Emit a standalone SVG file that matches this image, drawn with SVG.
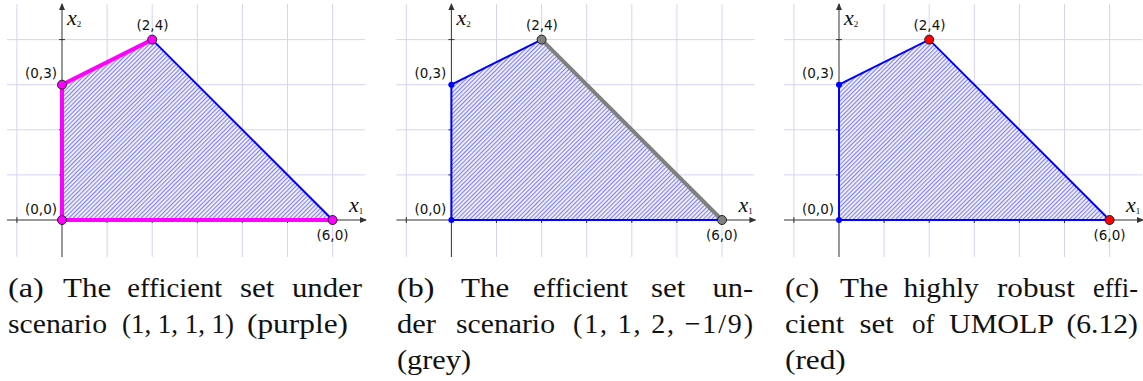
<svg xmlns="http://www.w3.org/2000/svg" width="1143" height="381" viewBox="0 0 1143 381">
<defs>
<pattern id="hatch" width="3" height="3" patternUnits="userSpaceOnUse" patternTransform="rotate(45)">
<rect x="0" y="0" width="3" height="3" fill="#f2f2fd"/>
<rect x="0" y="0" width="1.1" height="3" fill="#8080ee"/>
</pattern>
<marker id="arr" markerWidth="8" markerHeight="8" refX="6" refY="4" orient="auto" markerUnits="userSpaceOnUse">
<path d="M0,1 L7,4 L0,7 Z" fill="#333"/>
</marker>
<g id="grid">
<g class="grid">
<line x1="-45.1" y1="-216" x2="-45.1" y2="37"/>
<line x1="45.1" y1="-216" x2="45.1" y2="37"/>
<line x1="90.2" y1="-216" x2="90.2" y2="37"/>
<line x1="135.3" y1="-216" x2="135.3" y2="37"/>
<line x1="180.4" y1="-216" x2="180.4" y2="37"/>
<line x1="225.5" y1="-216" x2="225.5" y2="37"/>
<line x1="270.6" y1="-216" x2="270.6" y2="37"/>
<line x1="-55" y1="-180.4" x2="303" y2="-180.4"/>
<line x1="-55" y1="-135.3" x2="303" y2="-135.3"/>
<line x1="-55" y1="-90.2" x2="303" y2="-90.2"/>
<line x1="-55" y1="-45.1" x2="303" y2="-45.1"/>
</g>
<g class="axis">
<line x1="-55" y1="0" x2="304" y2="0" marker-end="url(#arr)"/>
<line x1="0" y1="37" x2="0" y2="-216" marker-end="url(#arr)"/>
<line x1="-3" y1="-180.4" x2="3" y2="-180.4"/>
<line x1="-3" y1="-135.3" x2="3" y2="-135.3"/>
<line x1="-3" y1="-90.2" x2="3" y2="-90.2"/>
<line x1="-3" y1="-45.1" x2="3" y2="-45.1"/>
<line x1="-45.1" y1="-3" x2="-45.1" y2="3"/>
<line x1="45.1" y1="-3" x2="45.1" y2="3"/>
<line x1="90.2" y1="-3" x2="90.2" y2="3"/>
<line x1="135.3" y1="-3" x2="135.3" y2="3"/>
<line x1="180.4" y1="-3" x2="180.4" y2="3"/>
<line x1="225.5" y1="-3" x2="225.5" y2="3"/>
<line x1="270.6" y1="-3" x2="270.6" y2="3"/>
</g>
<text class="ax" x="5" y="-195">x<tspan class="sub" dy="2">2</tspan></text>
<text class="ax" x="287" y="-8">x<tspan class="sub" dy="2">1</tspan></text>
<polygon points="0,0 0,-135.3 90.2,-180.4 270.6,0" fill="url(#hatch)"/>
<text class="lbl" x="90.5" y="-190" text-anchor="middle">(2,4)</text>
<text class="lbl" x="-5" y="-142" text-anchor="end">(0,3)</text>
<text class="lbl" x="-5" y="-6" text-anchor="end">(0,0)</text>
<text class="lbl" x="270.5" y="20" text-anchor="middle">(6,0)</text>
</g>
</defs>
<style>
.grid line { stroke:#d4d4f6; stroke-width:1; }
.axis line { stroke:#333; stroke-width:1; }
.ax { font-family:"Liberation Serif", serif; font-style:italic; font-size:22px; fill:#111; }
.sub { font-size:9px; font-style:normal; }
.lbl { font-family:"DejaVu Sans", sans-serif; font-size:13.5px; fill:#111; }
.edge { stroke:#0000ff; stroke-width:2; fill:none; stroke-linecap:round; }
.thick-m { stroke:#ff00ff; stroke-width:4; stroke-linecap:round; }
.thick-g { stroke:#808080; stroke-width:4; stroke-linecap:round; }
.pt { stroke:#222; stroke-width:1; }
.pt-m { fill:#ff00ff; }
.pt-g { fill:#808080; }
.pt-r { fill:#ff0000; }
.pt-b { fill:#0000ff; }
.cap { font-family:"Liberation Serif", serif; font-size:28px; fill:#111; }
</style>
<rect width="1143" height="381" fill="#ffffff"/>

<!-- Panel (a) -->
<g id="panel-a" transform="translate(62,220)">
<use href="#grid"/>
<g id="connectors-a">
<line class="edge" x1="90.2" y1="-180.4" x2="270.6" y2="0"/>
<polyline class="thick-m" fill="none" points="270.6,0 0,0 0,-135.3 90.2,-180.4"/>
</g>
<g id="a-p00"><circle class="pt pt-m" cx="0" cy="0" r="4.5"/></g>
<g id="a-p03"><circle class="pt pt-m" cx="0" cy="-135.3" r="4.5"/></g>
<g id="a-p24"><circle class="pt pt-m" cx="90.2" cy="-180.4" r="4.5"/></g>
<g id="a-p60"><circle class="pt pt-m" cx="270.6" cy="0" r="4.5"/></g>
</g>

<!-- Panel (b) -->
<g id="panel-b" transform="translate(451.4,220)">
<use href="#grid"/>
<g id="connectors-b">
<polyline class="edge" points="270.6,0 0,0 0,-135.3 90.2,-180.4"/>
<line class="thick-g" x1="90.2" y1="-180.4" x2="270.6" y2="0"/>
</g>
<g id="b-p00"><circle class="pt-b" cx="0" cy="0" r="3"/></g>
<g id="b-p03"><circle class="pt-b" cx="0" cy="-135.3" r="3"/></g>
<g id="b-p24"><circle class="pt pt-g" cx="90.2" cy="-180.4" r="4.5"/></g>
<g id="b-p60"><circle class="pt pt-g" cx="270.6" cy="0" r="4.5"/></g>
</g>

<!-- Panel (c) -->
<g id="panel-c" transform="translate(839,220)">
<use href="#grid"/>
<g id="connectors-c">
<polygon class="edge" points="0,0 0,-135.3 90.2,-180.4 270.6,0"/>
</g>
<g id="c-p00"><circle class="pt-b" cx="0" cy="0" r="3"/></g>
<g id="c-p03"><circle class="pt-b" cx="0" cy="-135.3" r="3"/></g>
<g id="c-p24"><circle class="pt pt-r" cx="90.2" cy="-180.4" r="4.5"/></g>
<g id="c-p60"><circle class="pt pt-r" cx="270.6" cy="0" r="4.5"/></g>
</g>

<!-- Captions -->
<g id="caption-a" class="cap">
<text x="8" y="297" textLength="35.8" lengthAdjust="spacingAndGlyphs">(a)</text>
<text x="63" y="297" textLength="48.2" lengthAdjust="spacingAndGlyphs">The</text>
<text x="127.3" y="297" textLength="94.9" lengthAdjust="spacingAndGlyphs">efficient</text>
<text x="239.9" y="297" textLength="34.4" lengthAdjust="spacingAndGlyphs">set</text>
<text x="291.9" y="297" textLength="70.1" lengthAdjust="spacingAndGlyphs">under</text>
<text x="8" y="333" textLength="99" lengthAdjust="spacingAndGlyphs">scenario</text>
<text x="122" y="333" textLength="112" lengthAdjust="spacingAndGlyphs">(1, 1, 1, 1)</text>
<text x="247" y="333" textLength="101" lengthAdjust="spacingAndGlyphs">(purple)</text>
</g>
<g id="caption-b" class="cap">
<text x="397" y="297" textLength="37.4" lengthAdjust="spacingAndGlyphs">(b)</text>
<text x="461" y="297" textLength="48.2" lengthAdjust="spacingAndGlyphs">The</text>
<text x="533" y="297" textLength="94.9" lengthAdjust="spacingAndGlyphs">efficient</text>
<text x="651" y="297" textLength="34.4" lengthAdjust="spacingAndGlyphs">set</text>
<text x="712.5" y="297" textLength="40.5" lengthAdjust="spacingAndGlyphs">un-</text>
<text x="397" y="333" textLength="39" lengthAdjust="spacingAndGlyphs">der</text>
<text x="456" y="333" textLength="99" lengthAdjust="spacingAndGlyphs">scenario</text>
<text x="573" y="333" textLength="180" lengthAdjust="spacing">(1, 1, 2, −1/9)</text>
<text x="397" y="369" textLength="74" lengthAdjust="spacingAndGlyphs">(grey)</text>
</g>
<g id="caption-c" class="cap">
<text x="785" y="297" textLength="34.2" lengthAdjust="spacingAndGlyphs">(c)</text>
<text x="840" y="297" textLength="48.2" lengthAdjust="spacingAndGlyphs">The</text>
<text x="903.4" y="297" textLength="75.5" lengthAdjust="spacingAndGlyphs">highly</text>
<text x="996.9" y="297" textLength="78" lengthAdjust="spacingAndGlyphs">robust</text>
<text x="1093" y="297" textLength="45" lengthAdjust="spacingAndGlyphs">effi-</text>
<text x="785" y="333" textLength="59.1" lengthAdjust="spacingAndGlyphs">cient</text>
<text x="859.5" y="333" textLength="34.4" lengthAdjust="spacingAndGlyphs">set</text>
<text x="912" y="333" textLength="22.6" lengthAdjust="spacingAndGlyphs">of</text>
<text x="949" y="333" textLength="105" lengthAdjust="spacingAndGlyphs">UMOLP</text>
<text x="1066.4" y="333" textLength="71.6" lengthAdjust="spacingAndGlyphs">(6.12)</text>
<text x="785" y="369" textLength="60.8" lengthAdjust="spacingAndGlyphs">(red)</text>
</g>
</svg>
